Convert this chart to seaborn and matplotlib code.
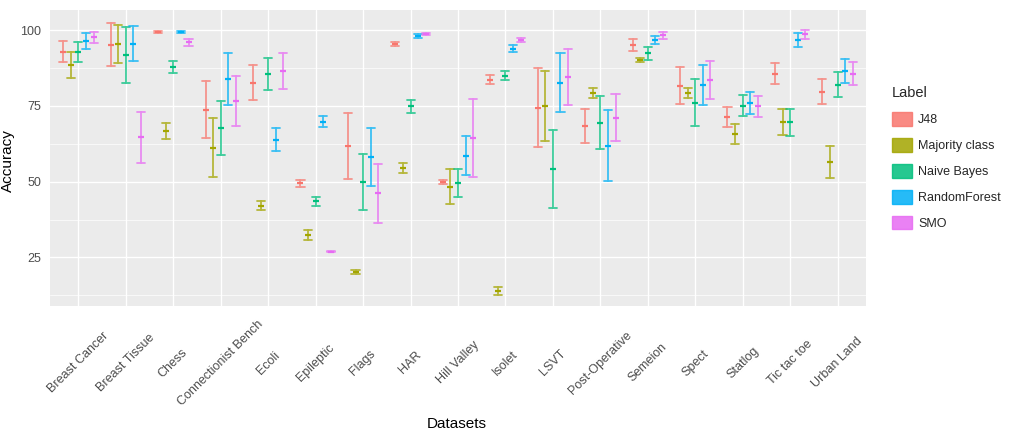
import numpy as np
import pandas as pd
import seaborn as sns
import matplotlib.pyplot as plt
from matplotlib.patches import Patch
from matplotlib.ticker import MultipleLocator

# Datasets on the x axis
datasets = ["Breast Cancer", "Breast Tissue", "Chess", "Connectionist Bench", "Ecoli",
            "Epileptic", "Flags", "HAR", "Hill Valley", "Isolet", "LSVT", "Post-Operative",
            "Semeion", "Spect", "Statlog", "Tic tac toe", "Urban Land"]

classifiers = ["J48", "Majority class", "Naive Bayes", "RandomForest", "SMO"]

# mean accuracy and half width of the error bar
j48_mean = [92.9, 95.2, 99.4, 73.7, 82.6, 49.4, 61.8, 95.3, 49.9, 83.6, 74.4, 68.4, 95.1, 81.7, 71.3, 85.6, 79.7]
j48_sd = [3.6, 7.0, 0.3, 9.4, 5.8, 1.2, 10.9, 0.7, 0.8, 1.5, 13.0, 5.6, 1.9, 6.2, 3.2, 3.4, 4.0]

maj_mean = [88.6, 95.4, 66.7, 61.2, 42.1, 32.5, 20.2, 54.5, 48.4, 14.0, 74.9, 79.3, 90.1, 79.3, 65.8, 69.7, 56.4]
maj_sd = [4.3, 6.2, 2.6, 9.8, 1.4, 1.6, 0.6, 1.6, 5.8, 1.4, 11.5, 1.6, 0.6, 1.6, 3.3, 4.4, 5.2]

nb_mean = [92.7, 91.7, 87.9, 67.6, 85.5, 43.6, 49.9, 74.8, 49.6, 84.9, 54.1, 69.5, 92.3, 76.0, 75.1, 69.6, 81.9]
nb_sd = [3.4, 9.2, 2.0, 8.9, 5.4, 1.5, 9.3, 2.0, 4.6, 1.5, 12.8, 8.6, 2.2, 7.7, 3.6, 4.5, 4.1]

rf_mean = [96.4, 95.5, 99.4, 83.8, 63.9, 69.8, 58.2, 98.1, 58.6, 93.9, 82.6, 61.9, 96.7, 81.9, 76.0, 96.7, 86.5]
rf_sd = [2.5, 5.8, 0.4, 8.5, 3.8, 1.8, 9.6, 0.6, 6.3, 1.1, 9.7, 11.6, 1.3, 6.5, 3.6, 2.2, 4.0]

smo_mean = [97.6, 64.6, 95.9, 76.6, 86.5, 26.9, 46.2, 98.7, 64.4, 96.7, 84.5, 71.1, 98.3, 83.5, 74.8, 98.6, 85.6]
smo_sd = [1.8, 8.5, 1.3, 8.4, 5.8, 0.2, 9.7, 0.3, 12.9, 0.7, 9.1, 7.7, 1.1, 6.3, 3.5, 1.4, 3.7]

colors = ["#F8766D", "#A3A500", "#00BF7D", "#00B0F6", "#E76BF3"]

means = [j48_mean, maj_mean, nb_mean, rf_mean, smo_mean]
sds = [j48_sd, maj_sd, nb_sd, rf_sd, smo_sd]

# long table: lower / mean / upper rows per group, median = mean, min/max = bar ends
rows = []
for clf, m_list, s_list in zip(classifiers, means, sds):
    for ds, m, s in zip(datasets, m_list, s_list):
        for v in (m - s, m, m + s):
            rows.append({"Datasets": ds, "Label": clf, "Accuracy": v})
df = pd.DataFrame(rows)

sns.set_style("white")
plt.rcParams["font.family"] = ["Liberation Sans", "DejaVu Sans"]

fig = plt.figure(figsize=(10.17, 4.41), dpi=100)
ax = fig.add_axes([50 / 1017, 135 / 441, 816 / 1017, 296 / 441])
ax.set_facecolor("#EBEBEB")

sns.pointplot(
    data=df, x="Datasets", y="Accuracy", hue="Label",
    order=datasets, hue_order=classifiers, palette=colors,
    estimator="median", errorbar=lambda v: (v.min(), v.max()),
    dodge=0.64, capsize=0.17, linestyle="none",
    markers="_", markersize=5, markeredgewidth=1.6,
    err_kws={"linewidth": 1.3, "alpha": 0.75},
    legend=False, ax=ax,
)

ax.set_xlim(-0.6, len(datasets) - 0.4)
ax.set_ylim(9.0, 106.6)
ax.yaxis.set_major_locator(MultipleLocator(25))
ax.yaxis.set_minor_locator(MultipleLocator(12.5))
ax.grid(True, which="major", color="white", linewidth=1.0)
ax.grid(True, which="minor", axis="y", color="white", linewidth=0.5)
ax.set_axisbelow(True)
for sp in ax.spines.values():
    sp.set_visible(False)

ax.tick_params(axis="both", which="major", length=3, width=0.8, color="#333333",
               labelsize=9, labelcolor="#4D4D4D")
ax.tick_params(axis="y", which="minor", length=0)
ax.tick_params(axis="x", pad=38)
plt.setp(ax.get_xticklabels(), rotation=45, ha="center", va="center", rotation_mode="anchor")

ax.set_xlabel("Datasets", fontsize=11, color="black")
ax.set_ylabel("Accuracy", fontsize=11, color="black")
ax.xaxis.set_label_coords(0.498, -0.399)
ax.xaxis.label.set_va("center")
ax.yaxis.set_label_coords(-0.052, 0.49)
ax.yaxis.label.set_va("center")

handles = [Patch(facecolor=c, edgecolor=c, alpha=0.85) for c in colors]
fig.legend(handles, classifiers, title="Label", loc="upper left",
           bbox_to_anchor=(0.877, 0.804), frameon=False, fontsize=9,
           title_fontsize=10.5, alignment="left", handlelength=1.6,
           handleheight=1.3, labelspacing=0.95, handletextpad=0.5,
           borderpad=0, borderaxespad=0)

fig.savefig("out.png", dpi=100)
